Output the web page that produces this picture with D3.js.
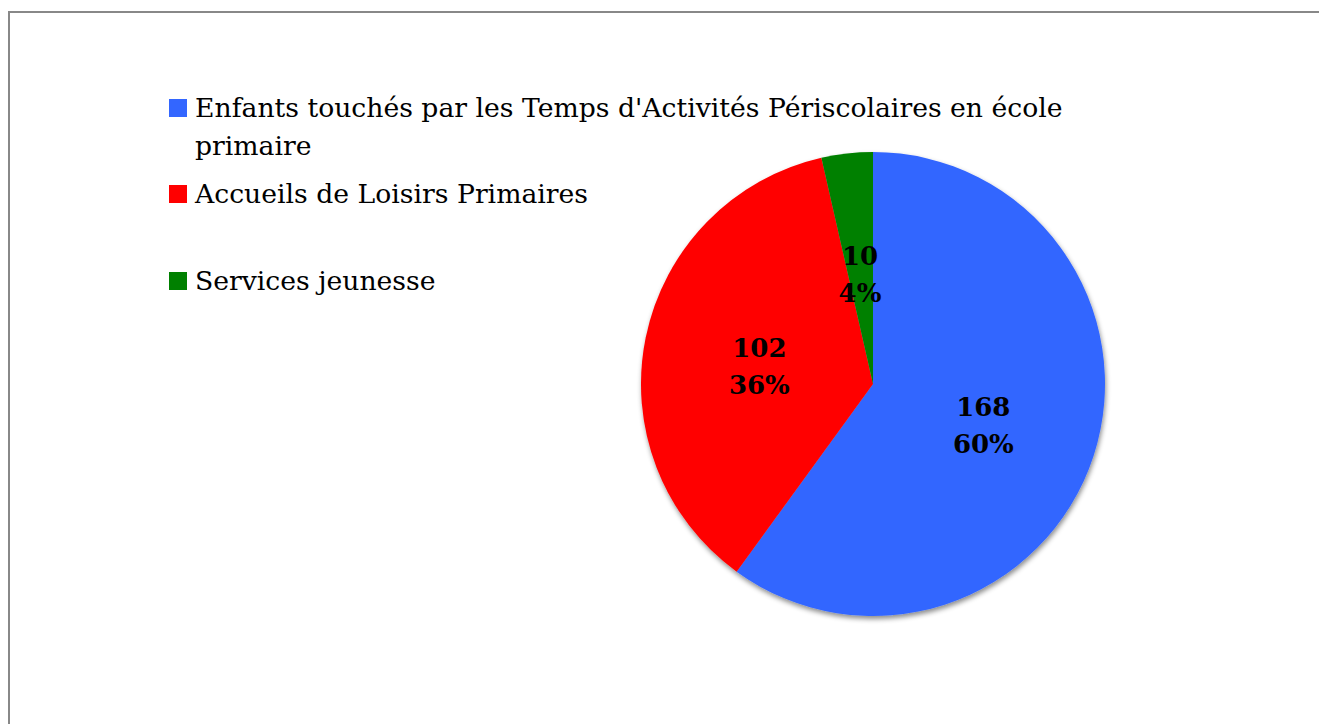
<!DOCTYPE html>
<html>
<head>
<meta charset="utf-8">
<script src="https://cdn.jsdelivr.net/npm/d3@7"></script>
<style>
  body { margin: 0; background: #fff; }
  svg { display: block; }
</style>
</head>
<body>
<div id="chart"></div>
<script>
(function () {

  // data
  const categories = [
    "Enfants touchés par les Temps d'Activités Périscolaires en école primaire",
    "Accueils de Loisirs Primaires",
    "Services jeunesse"
  ]
  const values = [168, 102, 10]
  const colors = ['#3366ff', '#ff0000', '#008000']

  // legend lines (the first entry wraps)
  const legendLines = [
    ["Enfants touchés par les Temps d'Activités Périscolaires en école", "primaire"],
    ["Accueils de Loisirs Primaires"],
    ["Services jeunesse"]
  ]

  const width = 1319
  const height = 724
  const font = "'DejaVu Serif', serif"

  const svg = d3.select("#chart").append("svg")
      .attr("width", width)
      .attr("height", height)

  // frame
  svg.append("rect")
    .attr("x", 9)
    .attr("y", 12)
    .attr("width", width)
    .attr("height", height)
    .attr("fill", "none")
    .attr("stroke", "#888")
    .attr("stroke-width", 2)

  const defs = svg.append("defs")
  const shadow = defs.append("filter")
    .attr("id", "shadow")
    .attr("x", "-10%").attr("y", "-10%")
    .attr("width", "120%").attr("height", "120%")
  shadow.append("feDropShadow")
    .attr("dx", 1)
    .attr("dy", 3)
    .attr("stdDeviation", 2.5)
    .attr("flood-color", "#000")
    .attr("flood-opacity", 0.45)

  const colorScale = d3.scaleOrdinal()
    .domain(categories)
    .range(colors)

  const total = d3.sum(values)
  const data = categories.map((c, i) => ({ name: c, value: values[i] }))

  const radius = 232
  const pie = d3.pie().value(d => d.value).sort(null)
  const arc = d3.arc().innerRadius(0).outerRadius(radius)

  const g = svg.append("g")
    .attr("transform", "translate(873,384)")

  g.append("g")
    .attr("filter", "url(#shadow)")
    .selectAll("path")
    .data(pie(data))
    .join("path")
    .attr("d", arc)
    .attr("fill", d => colorScale(d.data.name))

  const labels = g.selectAll(".label")
    .data(pie(data))
    .join("text")
    .attr("class", "label")
    .attr("transform", d => "translate(" + arc.centroid(d) + ")")
    .attr("text-anchor", "middle")
    .attr("font-family", font)
    .attr("font-weight", "bold")
    .attr("font-size", 26)
    .attr("fill", "#000")

  labels.append("tspan")
    .attr("x", 0)
    .attr("dy", -4)
    .text(d => d.data.value)
  labels.append("tspan")
    .attr("x", 0)
    .attr("dy", 37)
    .text(d => Math.round(d.data.value / total * 100) + "%")

  // legend
  const legendY = [99, 185, 272]
  const legend = svg.append("g")

  legend.selectAll("rect")
    .data(categories)
    .join("rect")
    .attr("x", 169)
    .attr("y", (d, i) => legendY[i])
    .attr("width", 18)
    .attr("height", 18)
    .attr("fill", d => colorScale(d))

  const legendText = legend.selectAll("text")
    .data(legendLines)
    .join("text")
    .attr("x", 195)
    .attr("y", (d, i) => legendY[i] + 18)
    .attr("font-family", font)
    .attr("font-size", 28)
    .attr("fill", "#000")

  legendText.selectAll("tspan")
    .data(d => d)
    .join("tspan")
    .attr("x", 195)
    .attr("dy", (d, i) => i === 0 ? 0 : 38)
    .text(d => d)

  // fit the long legend line to the width seen in the reference (~868px)
  const first = legendText.select("tspan").node()
  const w = first.getComputedTextLength()
  const size = 28 * 868 / w
  legendText.attr("font-size", size)
  svg.attr("data-legend-size", size.toFixed(2))

})();
</script>
</body>
</html>
